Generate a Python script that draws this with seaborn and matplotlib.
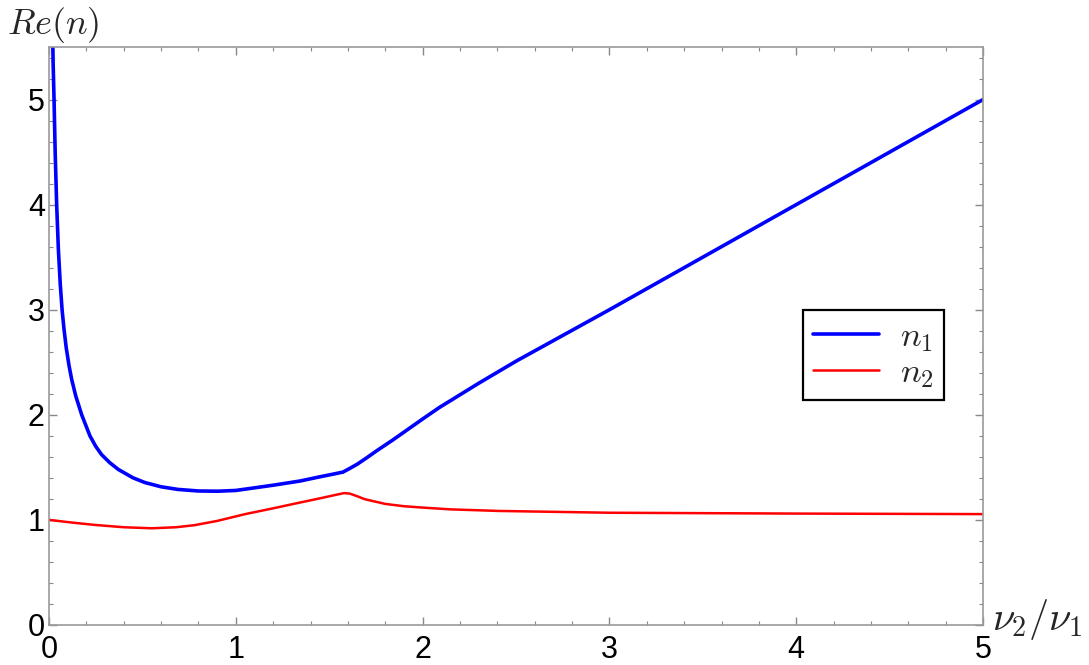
import matplotlib
matplotlib.use("Agg")
import matplotlib.pyplot as plt
from matplotlib.ticker import MultipleLocator
import seaborn as sns
import pandas as pd

# values
x_n1 = [0.018, 0.022, 0.027, 0.033, 0.041, 0.05, 0.06, 0.07, 0.08, 0.092, 0.107,
        0.121, 0.143, 0.175, 0.219, 0.25, 0.282, 0.325, 0.371, 0.45, 0.514, 0.6, 0.69, 0.8,
        0.905, 1.0, 1.2, 1.344, 1.45, 1.52, 1.574, 1.61, 1.65, 1.70, 1.756,
        1.84, 1.92, 2.0, 2.09, 2.3, 2.5, 3.0, 4.0, 5.0]
y_n1 = [5.8, 5.35, 5.0, 4.5, 4.0, 3.58, 3.25, 3.0, 2.82, 2.64, 2.47,
        2.34, 2.18, 2.0, 1.8, 1.7, 1.62, 1.545, 1.48, 1.40, 1.355, 1.315, 1.29, 1.275,
        1.273, 1.28, 1.33, 1.37, 1.41, 1.435, 1.455, 1.49, 1.53, 1.59, 1.66,
        1.76, 1.86, 1.96, 2.07, 2.3, 2.51, 3.0, 4.0, 5.0]

x_n2 = [0.0, 0.12, 0.246, 0.4, 0.55, 0.68, 0.78, 0.9, 1.05, 1.2, 1.317, 1.45,
        1.54, 1.58, 1.61, 1.65, 1.69, 1.80, 1.9, 2.0, 2.15, 2.41, 3.0, 4.0, 5.0]
y_n2 = [1.0, 0.975, 0.952, 0.93, 0.92, 0.93, 0.95, 0.99, 1.055, 1.11, 1.155, 1.205,
        1.24, 1.255, 1.25, 1.225, 1.197, 1.152, 1.13, 1.117, 1.10, 1.085, 1.068, 1.06, 1.055]

labels = [r"$n_1$", r"$n_2$"]
x_ticks = [0, 1, 2, 3, 4, 5]
y_ticks = [0, 1, 2, 3, 4, 5]

df1 = pd.DataFrame({"x": x_n1, "y": y_n1})
df2 = pd.DataFrame({"x": x_n2, "y": y_n2})

sns.set_style("ticks")
plt.rcParams["font.family"] = ["Liberation Sans", "DejaVu Sans"]
plt.rcParams["mathtext.fontset"] = "cm"

fig = plt.figure(figsize=(10.89, 6.65), dpi=100)
ax = fig.add_axes([0.045, 0.0602, 0.8577, 0.8691])

sns.lineplot(data=df1, x="x", y="y", ax=ax, color=(0, 0, 1), linewidth=2.6,
             label=labels[0], sort=False)
sns.lineplot(data=df2, x="x", y="y", ax=ax, color=(1, 0, 0), linewidth=1.8,
             label=labels[1], sort=False)

ax.set_xlim(0, 5)
ax.set_ylim(0, 5.5)
ax.set_xticks(x_ticks)
ax.set_yticks(y_ticks)
ax.xaxis.set_minor_locator(MultipleLocator(0.2))
ax.yaxis.set_minor_locator(MultipleLocator(0.2))
ax.tick_params(which="both", direction="in", top=True, right=True, color="#888888",
               labelsize=22, labelcolor="black")
ax.tick_params(axis="x", pad=7)
ax.tick_params(axis="y", pad=3)
ax.tick_params(which="major", length=6, width=1)
ax.tick_params(which="minor", length=3, width=0.8)
for s in ax.spines.values():
    s.set_color("#999999")
    s.set_linewidth(1.2)

ax.set_xlabel("")
ax.set_ylabel("")
fig.text(0.006, 0.932, r"$Re(n)$", fontsize=26, ha="left", va="bottom")
fig.text(0.911, 0.068, r"$\nu_2/\nu_1$", fontsize=29, ha="left", va="center")

leg = ax.legend(loc="upper left", bbox_to_anchor=(0.807, 0.545), borderaxespad=0,
                fancybox=False, framealpha=1, edgecolor="black", fontsize=25,
                handlelength=1.9, handletextpad=0.6, labelspacing=0.05, borderpad=0.3)
leg.get_frame().set_linewidth(1.6)

fig.savefig("out.png", dpi=100)
